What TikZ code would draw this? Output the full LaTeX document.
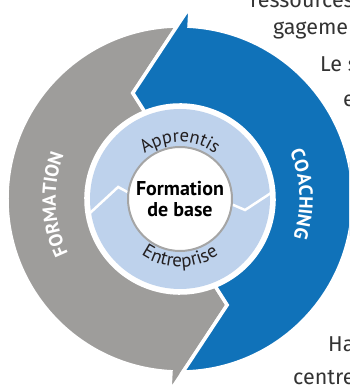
\documentclass[tikz,border=0pt]{standalone}
\usepackage{fontspec}
\setmainfont{PT Sans}
\newfontfamily\fragfont{Fira Sans}
\usetikzlibrary{decorations.text}
\definecolor{ringgray}{RGB}{158,157,155}
\definecolor{ringblue}{RGB}{16,114,185}
\definecolor{lightring}{RGB}{190,210,236}
\definecolor{txtdark}{RGB}{35,31,32}
\definecolor{fragtxt}{RGB}{51,51,51}
\definecolor{circborder}{RGB}{165,165,165}
\begin{document}
\begin{tikzpicture}[x=1pt,y=1pt,
  frag/.style={font=\fragfont\fontsize{21.5}{22}\selectfont, text=fragtxt, anchor=base west, inner sep=0pt},
  arrowpiece/.style={draw=white, line width=3.5pt, line join=miter},
  zigzag/.style={draw=white, line width=2.5pt}]
\useasboundingbox (0,0) rectangle (349,388);
\clip (0,0) rectangle (349,388);
\coordinate (C) at (180,189);
% gray arrow (left)
\path[fill=ringgray, arrowpiece] ([shift={(267:193)}]C) -- ([shift={(267:173)}]C)
  arc[start angle=267, end angle=90.97, radius=173] -- ([shift={(114:116)}]C)
  -- ([shift={(112:94)}]C) arc[start angle=112, end angle=292, radius=94]
  -- ([shift={(294:116)}]C) -- cycle;
% blue arrow (right)
\path[fill=ringblue, arrowpiece] ([shift={(87:193)}]C) -- ([shift={(87:173)}]C)
  arc[start angle=87, end angle=-89.03, radius=173] -- ([shift={(294:116)}]C)
  -- ([shift={(292:94)}]C) arc[start angle=-68, end angle=112, radius=94]
  -- ([shift={(114:116)}]C) -- cycle;
% light ring
\fill[white] (C) circle (92);
\fill[lightring] (C) circle (90);
\draw[zigzag] ([shift={(188.8:91)}]C) -- ([shift={(169:63)}]C) -- ([shift={(172.5:53)}]C);
\draw[zigzag] ([shift={(3.7:91)}]C) -- ([shift={(-9.6:66)}]C) -- ([shift={(-6.2:53)}]C);
% core
\node[circle, minimum size=104pt, inner sep=0pt, fill=white, draw=circborder, line width=2pt,
  align=center, font=\bfseries\fontsize{20}{21}\selectfont, text=black] (core) at (C) {Formation\\de base};
% ring labels
\path[decorate, decoration={text along path, text align=center,
  text={|\fontsize{18.5}{20}\selectfont\color{txtdark}|Apprentis}}]
  ([shift={(150:57)}]C) arc[start angle=150, end angle=30, radius=57];
\path[decorate, decoration={text along path, text align=center,
  text={|\fontsize{19}{20}\selectfont\color{txtdark}|Entreprise}}]
  ([shift={(215:68)}]C) arc[start angle=215, end angle=325, radius=68];
% outer labels
\path[decorate, decoration={text along path, text align=fit to path,
  text={|\bfseries\fontsize{19}{19}\selectfont\color{white}|FORMATION}}]
  ([shift={(205.9:124.3)}]C) arc[start angle=205.9, end angle=160.7, radius=124.3];
\path[decorate, decoration={text along path, text align=fit to path,
  text={|\bfseries\fontsize{19}{19}\selectfont\color{white}|COACHING}}]
  ([shift={(23.2:119.5)}]C) arc[start angle=23.2, end angle=-17.8, radius=119.5];
% surrounding text fragments
\node[frag] (f1) at (250,380) {ressources};
\node[frag] (f2) at (273,353) {gagement};
\node[frag] (f3) at (320,316) {Le s};
\node[frag] (f4) at (343,281) {e};
\node[frag] (f5) at (328,36) {Ha};
\node[frag] (f6) at (293,3) {centre};
\end{tikzpicture}
\end{document}
